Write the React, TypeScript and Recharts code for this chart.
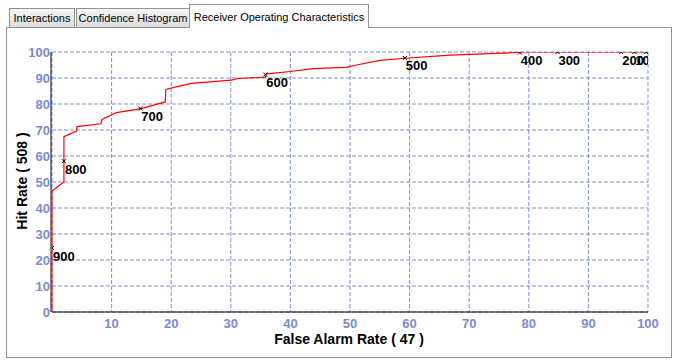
import React from 'react';
import { ComposedChart, Line, Scatter, XAxis, YAxis, CartesianGrid } from 'recharts';

const falseAlarm = [0, 0, 2.0, 2.0, 4.1, 4.2, 8.2, 8.4, 10.8, 14.8, 19.0, 19.1, 21.5, 23.4, 26.5, 30.1, 31.2, 35.8, 36.0, 40.0, 43.8, 49.4, 51.1, 55.0, 59.2, 66.8, 71.3, 78.0, 79.6, 100];
const hitRate = [0, 46.5, 50.0, 67.4, 69.6, 71.3, 72.4, 74.1, 76.7, 78.1, 80.8, 85.6, 87.0, 87.9, 88.5, 89.2, 89.8, 90.3, 91.6, 92.5, 93.6, 94.1, 95.0, 96.8, 97.6, 98.8, 99.2, 99.8, 100, 100];

const thresholdLabels = ['900', '800', '700', '600', '500', '400', '300', '200', '100', '0'];
const thresholdFa = [0, 2.0, 14.8, 35.8, 59.2, 78.5, 84.8, 95.5, 97.7, 99.7];
const thresholdHit = [24.6, 58.0, 78.3, 91.3, 97.7, 99.8, 100, 100, 100, 100];

const xTicks = [10, 20, 30, 40, 50, 60, 70, 80, 90, 100];
const yTicks = [0, 10, 20, 30, 40, 50, 60, 70, 80, 90, 100];

const tabs = ['Interactions', 'Confidence Histogram', 'Receiver Operating Characteristics'];
const xTitle = 'False Alarm Rate ( 47 )';
const yTitle = 'Hit Rate ( 508 )';

const curve = falseAlarm.map((fa, i) => ({ fa, hit: hitRate[i] }));
const marks = thresholdLabels.map((label, i) => ({ fa: thresholdFa[i], hit: thresholdHit[i], label }));

const FONT = '"Liberation Sans", Arial, sans-serif';
const TICK_COLOR = '#7a8bcf';
const GRID_COLOR = '#7f8fd0';
const BORDER = '#929292';

const YTick = (props: any) => {
  const { x, y, payload } = props;
  return (
    <text x={x} y={y + 5} textAnchor="end" fill={TICK_COLOR} fontFamily={FONT} fontWeight="bold" fontSize={13}>
      {payload.value}
    </text>
  );
};

const XTick = (props: any) => {
  const { x, y, payload } = props;
  return (
    <text x={x} y={y + 16} textAnchor="middle" fill={TICK_COLOR} fontFamily={FONT} fontWeight="bold" fontSize={13}>
      {payload.value}
    </text>
  );
};

const MarkShape = (props: any) => {
  const { cx, cy, payload } = props;
  return (
    <g>
      <path d={`M${cx - 2},${cy - 2}L${cx + 2},${cy + 2}M${cx - 2},${cy + 2}L${cx + 2},${cy - 2}`} stroke="#000" strokeWidth={1} fill="none" />
      <text x={cx + 1} y={cy + 12.5} fill="#000" fontFamily={FONT} fontWeight="bold" fontSize={13}>
        {payload.label}
      </text>
    </g>
  );
};

const tabBase: React.CSSProperties = {
  position: 'absolute',
  boxSizing: 'border-box',
  border: `1px solid ${BORDER}`,
  fontFamily: FONT,
  fontSize: 11,
  color: '#000',
  display: 'flex',
  alignItems: 'center',
  justifyContent: 'center',
  whiteSpace: 'nowrap',
};

export default function App() {
  return (
    <div style={{ position: 'absolute', left: 0, top: 0, width: 677, height: 362, background: '#fff', overflow: 'hidden' }}>
      {/* panel */}
      <div style={{ position: 'absolute', left: 6, top: 27, width: 666, height: 331, boxSizing: 'border-box', border: `1px solid ${BORDER}` }} />
      {/* tabs */}
      <div style={{ ...tabBase, left: 9, top: 8, width: 66, height: 20, background: 'linear-gradient(#f6f6f6, #dcdcdc)' }}>{tabs[0]}</div>
      <div style={{ ...tabBase, left: 76, top: 8, width: 114, height: 20, background: 'linear-gradient(#f6f6f6, #dcdcdc)' }}>{tabs[1]}</div>
      <div style={{ ...tabBase, left: 189, top: 4, width: 180, height: 24, background: '#fff', borderBottom: 'none' }}>{tabs[2]}</div>

      <div style={{ position: 'absolute', left: 0, top: 0 }}>
        <ComposedChart width={677} height={362} margin={{ top: 52, right: 29, bottom: 0, left: 0 }}>
          <CartesianGrid stroke={GRID_COLOR} strokeDasharray="4 2" />
          <XAxis
            type="number"
            dataKey="fa"
            domain={[0, 100]}
            ticks={xTicks}
            height={50}
            tickSize={0}
            tickMargin={0}
            tickLine={false}
            axisLine={{ stroke: '#000', strokeWidth: 1 }}
            tick={<XTick />}
            allowDataOverflow
          />
          <YAxis
            type="number"
            dataKey="hit"
            domain={[0, 100]}
            ticks={yTicks}
            width={52}
            tickSize={0}
            tickMargin={2}
            tickLine={false}
            axisLine={{ stroke: '#000', strokeWidth: 1, transform: 'translate(-1,0)' }}
            tick={<YTick />}
            allowDataOverflow
          />
          <Line data={curve} dataKey="hit" type="linear" stroke="#ff0000" strokeWidth={1.2} dot={false} activeDot={false} isAnimationActive={false} />
          <Scatter data={marks} dataKey="hit" shape={<MarkShape />} isAnimationActive={false} />
        </ComposedChart>
      </div>

      <svg width={677} height={362} style={{ position: 'absolute', left: 0, top: 0, pointerEvents: 'none' }}>
        <text x={349} y={344} textAnchor="middle" fontFamily={FONT} fontWeight="bold" fontSize={14} fill="#000">{xTitle}</text>
        <text x={27} y={181} textAnchor="middle" fontFamily={FONT} fontWeight="bold" fontSize={14} fill="#000" transform="rotate(-90 27 181)">{yTitle}</text>
      </svg>
    </div>
  );
}
